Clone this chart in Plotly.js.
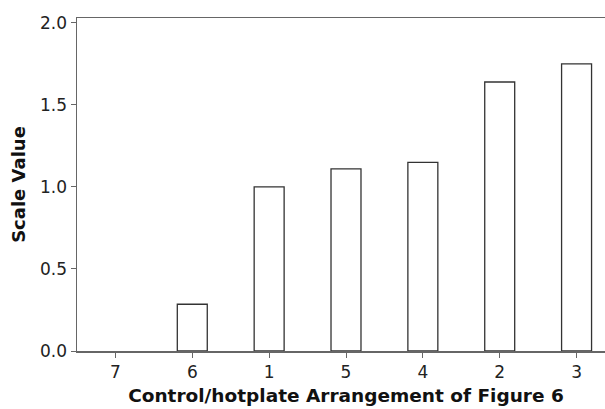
<!DOCTYPE html>
<html>
<head>
<meta charset="utf-8">
<script src="https://cdn.plot.ly/plotly-3.0.1.min.js"></script>
<style>html,body{margin:0;padding:0;background:#fff;overflow:hidden;width:605px;height:409px;}#wrap{width:605px;height:409px;overflow:hidden;}#chart{width:615px;height:409px;}</style>
</head>
<body>
<div id="wrap"><div id="chart"></div></div>
<script>
const categories = ["7", "6", "1", "5", "4", "2", "3"];
const scaleValues = [0, 0.285, 1.0, 1.11, 1.15, 1.64, 1.75];
const yTickVals = [0, 0.5, 1.0, 1.5, 2.0];
const yTickText = ["0.0", "0.5", "1.0", "1.5", "2.0"];

const trace = {
  type: "bar",
  x: categories,
  y: scaleValues,
  marker: {
    color: "#ffffff",
    line: { color: "#333333", width: scaleValues.map(v => v > 0 ? 1.3 : 0) }
  },
  hoverinfo: "skip"
};

const layout = {
  width: 615, height: 409,
  margin: { l: 77, r: 0, t: 18, b: 58 },
  paper_bgcolor: "#ffffff", plot_bgcolor: "#ffffff",
  bargap: 0.61,
  showlegend: false,
  font: { family: "DejaVu Sans, Verdana, sans-serif", color: "#222222", size: 17 },
  xaxis: {
    type: "category",
    range: [-0.5, 6.5],
    showline: true, linecolor: "#666666", linewidth: 1.5, mirror: true,
    ticks: "outside", ticklen: 5, tickcolor: "#666666", tickwidth: 1,
    showgrid: false, zeroline: false,
    tickfont: { size: 17, color: "#222222" },
    title: { text: "<b>Control/hotplate Arrangement of Figure 6</b>", font: { size: 18.5, color: "#111111" }, standoff: 8 }
  },
  yaxis: {
    range: [0, 2.03],
    tickvals: yTickVals, ticktext: yTickText,
    showline: true, linecolor: "#666666", linewidth: 1.5, mirror: false,
    ticks: "outside", ticklen: 5, tickcolor: "#666666", tickwidth: 1,
    showgrid: false, zeroline: false,
    tickfont: { size: 17, color: "#222222" },
    title: { text: "<b>Scale Value</b>", font: { size: 18, color: "#111111" }, standoff: 10 }
  }
};

Plotly.newPlot("chart", [trace], layout, { displayModeBar: false, staticPlot: true });
</script>
</body>
</html>
